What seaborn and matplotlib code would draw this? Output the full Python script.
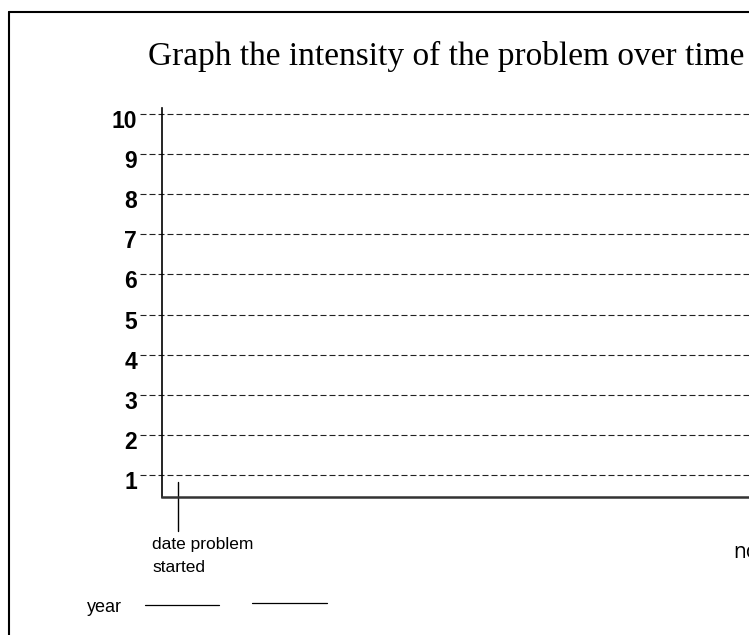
import numpy as np
import pandas as pd
import seaborn as sns
import matplotlib
matplotlib.use('Agg')
import matplotlib.pyplot as plt
import matplotlib.transforms as mtransforms
from matplotlib.lines import Line2D

# intensity scale of the worksheet
levels = [1, 2, 3, 4, 5, 6, 7, 8, 9, 10]
level_labels = [str(v) for v in levels]
title = "Graph the intensity of the problem over time"
start_label = "date problem\nstarted"
end_label = "now"
year_label = "year"
# time axis runs from 0 (axis line) to 1 (right edge); the start marker sits just after the axis
start_date = 0.027
time_span = [-0.037, 1.0]

sns.set_theme(style="white")
plt.rcParams['font.family'] = ['Liberation Sans', 'DejaVu Sans']
plt.rcParams['text.color'] = 'black'
plt.rcParams['ytick.color'] = 'black'

W, H = 749, 635
fig = plt.figure(figsize=(W / 100, H / 100), dpi=100)
ax = fig.add_axes([162 / W, 1 - 497 / H, (W - 162) / W, (497 - 108) / H])

# dashed guide line for every level
grid = pd.DataFrame({
    "time": np.tile(time_span, len(levels)),
    "level": np.repeat(levels, 2),
})
sns.lineplot(data=grid, x="time", y="level", units="level", estimator=None,
             color="#222222", lw=0.8, dashes=False, ax=ax, clip_on=False)
for line in ax.get_lines():
    line.set_linestyle((0, (5.4, 2.7)))

# tick marking when the problem started
ax.plot([start_date, start_date], [0.83, -0.4], color="black", lw=1, clip_on=False)

ax.set_xlim(0, 1)
ax.set_ylim(0.45, 10.15)
ax.set_xlabel("")
ax.set_ylabel("")
ax.set_xticks([])
ax.set_yticks(levels, level_labels)
ax.tick_params(axis="y", length=0, pad=18, labelcolor="black")
for lab in ax.get_yticklabels():
    lab.set_fontweight("bold")
    lab.set_fontsize(16.5)
    lab.set_transform(lab.get_transform() + mtransforms.ScaledTranslation(0, -0.05, fig.dpi_scale_trans))

for side in ["top", "right"]:
    ax.spines[side].set_visible(False)
ax.spines["left"].set_color("black")
ax.spines["left"].set_linewidth(1.2)
ax.spines["bottom"].set_color("#333333")
ax.spines["bottom"].set_linewidth(1.8)
ax.patch.set_alpha(0)

fig.text(152 / W, 1 - 537 / H, start_label, ha="left", va="top",
         fontsize=12.5, linespacing=1.7)

fig.text(446 / W, 1 - 56 / H, title, ha="center", va="center",
         family="Liberation Serif", fontsize=24)
fig.text(733 / W, 1 - 553 / H, end_label, ha="left", va="center",
         family="Open Sans", fontsize=15)
fig.text(87 / W, 1 - 607 / H, year_label, ha="left", va="center", fontsize=13)

# blanks to fill in the year
fig.add_artist(Line2D([145 / W, 219 / W], [1 - 605 / H] * 2, color="black", lw=0.9))
fig.add_artist(Line2D([252 / W, 327 / W], [1 - 603 / H] * 2, color="black", lw=0.9))

# slide frame
fig.add_artist(Line2D([9 / W, 9 / W], [0, 1 - 12 / H], color="black", lw=1.5))
fig.add_artist(Line2D([9 / W, 1], [1 - 12 / H] * 2, color="black", lw=1.5))

fig.savefig("out.png", dpi=100)
